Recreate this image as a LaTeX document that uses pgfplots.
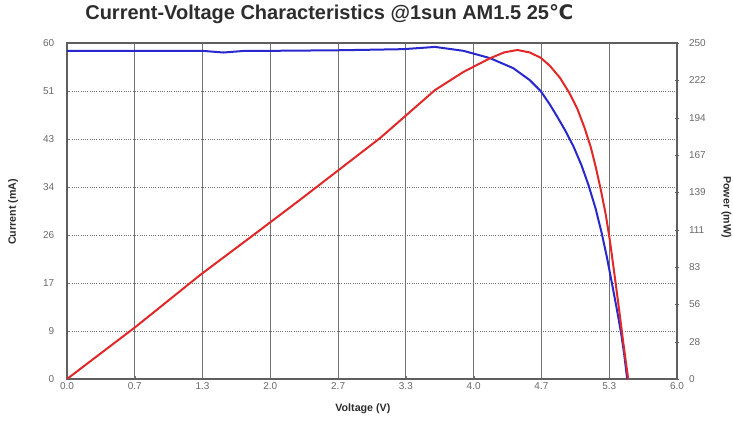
\documentclass[border=0pt]{standalone}
\usepackage{fontspec}
\setmainfont{Liberation Sans}
\newfontfamily\dejavu{DejaVu Sans}
\usepackage{pgfplots}
\pgfplotsset{compat=1.18}

\definecolor{ivblue}{RGB}{40,40,205}
\definecolor{pvred}{RGB}{225,40,40}
\definecolor{framegray}{RGB}{95,95,95}
\definecolor{gridgray}{RGB}{115,115,115}
\definecolor{ticktext}{RGB}{105,105,105}
\definecolor{labeltext}{RGB}{45,45,45}

\begin{document}
\begin{tikzpicture}
\useasboundingbox (-50.25pt,-39.75pt) rectangle (499.5pt,284.25pt);
\begin{axis}[
    at={(0,0)}, anchor=south west,
    scale only axis,
    width=457.5pt, height=252pt,
    xmin=0, xmax=6, ymin=0, ymax=60,
    xtick={0,0.66667,1.33333,2,2.66667,3.33333,4,4.66667,5.33333,6},
    xticklabels={0.0,0.7,1.3,2.0,2.7,3.3,4.0,4.7,5.3,6.0},
    ytick={0,8.57143,17.14286,25.71429,34.28571,42.85714,51.42857,60},
    yticklabels={0,9,17,26,34,43,51,60},
    xtick pos=bottom, ytick pos=left,
    major tick length=2.5pt,
    tick style={gridgray},
    grid=major,
    every axis x grid/.style={gridgray, line width=0.6pt},
    every axis y grid/.style={gridgray, line width=0.7pt, densely dotted},
    axis line style={framegray, line width=1pt},
    tick label style={font=\fontsize{7.5}{8}\selectfont, text=ticktext},
    yticklabel style={xshift=-6pt},
    xticklabel style={yshift=1pt},
    xlabel={Voltage (V)},
    ylabel={Current (mA)},
    every axis x label/.style={at={(axis description cs:0.485,-0.089)}, anchor=center,
        font=\bfseries\fontsize{8}{9}\selectfont, text=labeltext},
    every axis y label/.style={at={(axis description cs:-0.0885,0.497)}, anchor=center, rotate=90,
        font=\bfseries\fontsize{8}{9}\selectfont, text=labeltext},
    title={Current-Voltage Characteristics @1sun AM1.5 25{\dejavu\bfseries ℃}},
    every axis title/.style={at={(axis description cs:0.43,1.086)}, anchor=center,
        font=\bfseries\fontsize{15}{17}\selectfont, text=labeltext},
    ]
% current (mA) vs voltage (V)
\addplot[ivblue, line width=1.5pt] coordinates {
(0.00,58.6) (0.67,58.6) (1.33,58.6) (1.54,58.3) (1.75,58.6) (2.00,58.6)
(2.66,58.7) (3.00,58.8) (3.31,58.9) (3.62,59.3) (3.90,58.6) (4.16,57.3)
(4.39,55.5) (4.55,53.4) (4.66,51.4) (4.75,49.0) (4.82,46.9) (4.90,44.4)
(4.98,41.6) (5.06,38.2) (5.13,34.6) (5.20,30.4) (5.26,26.0) (5.31,21.8)
(5.36,17.1) (5.41,12.3) (5.45,8.2) (5.48,4.5) (5.51,0)
};
\end{axis}
\begin{axis}[
    at={(0,0)}, anchor=south west,
    scale only axis,
    width=457.5pt, height=252pt,
    xmin=0, xmax=6, ymin=0, ymax=250,
    axis x line=none,
    axis y line*=right,
    ytick={0,27.7778,55.5556,83.3333,111.1111,138.8889,166.6667,194.4444,222.2222,250},
    yticklabels={0,28,56,83,111,139,167,194,222,250},
    major tick length=3pt,
    tick align=center,
    tick style={framegray},
    axis line style={framegray, line width=1pt},
    tick label style={font=\fontsize{7.5}{8}\selectfont, text=ticktext},
    yticklabel style={xshift=4pt},
    ylabel={Power (mW)},
    every axis y label/.style={at={(axis description cs:1.081,0.512)}, anchor=center, rotate=-90,
        font=\bfseries\fontsize{8}{9}\selectfont, text=labeltext},
    ]
% power (mW) vs voltage (V)
\addplot[pvred, line width=1.5pt] coordinates {
(0.00,0) (0.67,38.5) (1.31,77.4) (1.90,110.9) (2.29,133.2) (3.08,179.3)
(3.62,215.0) (3.90,228.5) (4.16,238.6) (4.30,243.0) (4.43,244.8) (4.55,243.0)
(4.66,239.0) (4.75,233.0) (4.85,224.0) (4.94,213.0) (5.02,201.0) (5.09,187.0)
(5.15,173.0) (5.20,158.0) (5.25,141.0) (5.30,122.0) (5.34,103.0) (5.39,75.0)
(5.43,52.0) (5.47,28.0) (5.52,0)
};
\end{axis}
\end{tikzpicture}
\end{document}
